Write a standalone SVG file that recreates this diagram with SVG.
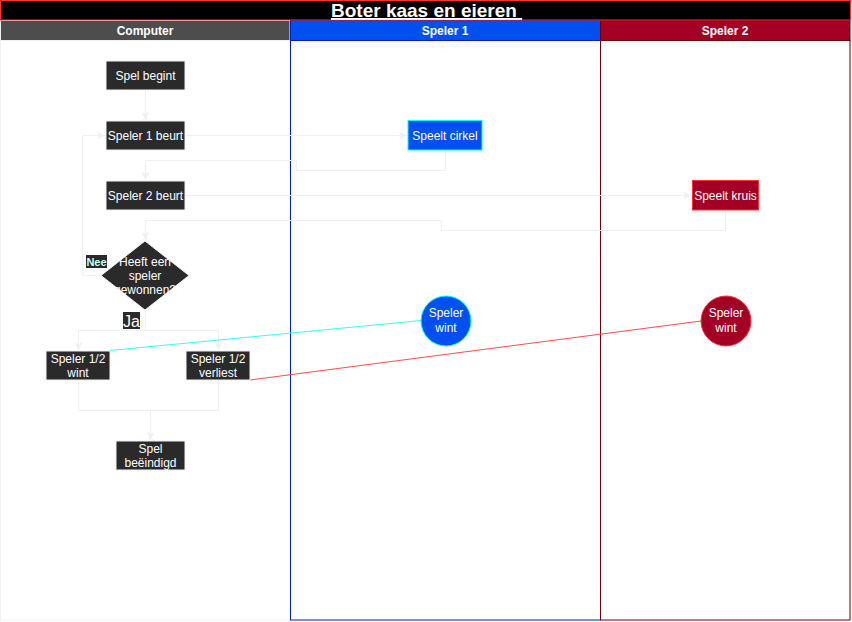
<svg xmlns="http://www.w3.org/2000/svg" width="852" height="622" viewBox="0 0 852 622">
<defs>
<style>
text{font-family:"Liberation Sans",Arial,sans-serif;font-size:12px;fill:#FFFFFF;text-anchor:middle}
.hdr{font-weight:bold}
.node{fill:#2A2A2A;stroke:#F0F0F0;stroke-width:1}
.edge{fill:none;stroke:#F0F0F0;stroke-width:1}
</style>
<marker id="arr" markerWidth="10" markerHeight="10" refX="8" refY="5" orient="auto" markerUnits="userSpaceOnUse">
<path d="M0,1 L8,5 L0,9 L2,5 Z" fill="#F0F0F0"/>
</marker>
</defs>
<rect x="0" y="0" width="852" height="622" fill="#FFFFFF"/>
<g id="lanes">
<rect x="0.5" y="40" width="289.5" height="580" fill="#FFFFFF" stroke="#F0F0F0"/>
<rect x="290.5" y="40" width="310" height="580" fill="#FFFFFF" stroke="#001DBC"/>
<rect x="600.5" y="40" width="249.5" height="580" fill="#FFFFFF" stroke="#6F0000"/>
<rect x="0.5" y="20.5" width="289.5" height="20" fill="#4D4D4D" stroke="#F0F0F0"/>
<rect x="290.5" y="20.5" width="310" height="20" fill="#0050EF" stroke="#001DBC"/>
<rect x="600.5" y="20.5" width="249.5" height="20" fill="#A20025" stroke="#6F0000"/>
<text class="hdr" x="145" y="34.5">Computer</text>
<text class="hdr" x="445" y="34.5">Speler 1</text>
<text class="hdr" x="725" y="34.5">Speler 2</text>
<rect x="0.5" y="0.5" width="850" height="19.5" fill="#000000" stroke="#FF3333"/>
<text x="331" y="17" xml:space="preserve" style="font-size:19px;font-weight:bold;text-decoration:underline;text-anchor:start;white-space:pre">Boter kaas en eieren </text>
</g>
<g id="connectors">
<path class="edge" d="M145.5,90 V120" marker-end="url(#arr)"/>
<path class="edge" d="M185,135.5 H407" marker-end="url(#arr)"/>
<path class="edge" d="M445.5,150 V170.5 H296.5 V160.5 H145.5 V180" marker-end="url(#arr)"/>
<path class="edge" d="M185,195.5 H691" marker-end="url(#arr)"/>
<path class="edge" d="M725.5,210 V230.5 H441.5 V220.5 H145.5 V240" marker-end="url(#arr)"/>
<path class="edge" d="M101,275.5 H82.5 V135.5 H105" marker-end="url(#arr)"/>
<path class="edge" d="M145.5,310 V330.5 H78.5 V350" marker-end="url(#arr)"/>
<path class="edge" d="M145.5,330.5 H218.5 V350" marker-end="url(#arr)"/>
<path class="edge" d="M78.5,380 V410.5 H150.5 V440" marker-end="url(#arr)"/>
<path class="edge" d="M218.5,380 V410.5 H150.5"/>
<path d="M110,350.5 L421,320.5" fill="none" stroke="#33FFFF" stroke-width="1"/>
<path d="M250,380 L701,321" fill="none" stroke="#FF4D4D" stroke-width="1"/>
<rect x="86" y="255" width="21" height="13" fill="#2A2A2A"/>
<text x="96.5" y="265.5" style="font-size:11px;font-weight:bold;fill:#CCFFFF">Nee</text>
<rect x="123" y="312" width="17" height="17" fill="#2A2A2A"/>
<text x="131.5" y="326.5" style="font-size:16px">Ja</text>
</g>
<g id="spel-begint">
<rect class="node" x="106" y="61" width="79" height="29"/>
<text x="145.5" y="79.5">Spel begint</text>
</g>
<g id="speler1-beurt">
<rect class="node" x="106" y="121" width="79" height="29"/>
<text x="145.5" y="139.5">Speler 1 beurt</text>
</g>
<g id="speler2-beurt">
<rect class="node" x="106" y="181" width="79" height="29"/>
<text x="145.5" y="199.5">Speler 2 beurt</text>
</g>
<g id="beslissing">
<path class="node" d="M145,241 L189,275.5 L145,310 L101,275.5 Z"/>
<text x="145" y="265.5">Heeft een</text>
<text x="145" y="279.5">speler</text>
<text x="145" y="294">gewonnen?</text>
</g>
<g id="speler-wint">
<rect class="node" x="46" y="351" width="64" height="29"/>
<text x="78" y="362.5">Speler 1/2</text>
<text x="78" y="376.5">wint</text>
</g>
<g id="speler-verliest">
<rect class="node" x="186" y="351" width="64" height="29"/>
<text x="218" y="362.5">Speler 1/2</text>
<text x="218" y="376.5">verliest</text>
</g>
<g id="spel-beeindigd">
<rect class="node" x="116" y="441" width="69" height="29"/>
<text x="150.5" y="452.5">Spel</text>
<text x="150.5" y="466.5">beëindigd</text>
</g>
<g id="speelt-cirkel">
<rect x="408" y="120.5" width="74" height="29.5" fill="#0050EF" stroke="#00FFFF"/>
<text x="445" y="139.5">Speelt cirkel</text>
</g>
<g id="speelt-kruis">
<rect x="692.5" y="180.5" width="66" height="29.5" fill="#A20025" stroke="#FF3333"/>
<text x="725.5" y="199.5">Speelt kruis</text>
</g>
<g id="speler1-wint">
<circle cx="446" cy="321" r="25" fill="#0050EF" stroke="#00FFFF"/>
<text x="446" y="317">Speler</text>
<text x="446" y="331.5">wint</text>
</g>
<g id="speler2-wint">
<circle cx="726" cy="321" r="25" fill="#A20025" stroke="#FF3333"/>
<text x="726" y="317">Speler</text>
<text x="726" y="331.5">wint</text>
</g>
</svg>
